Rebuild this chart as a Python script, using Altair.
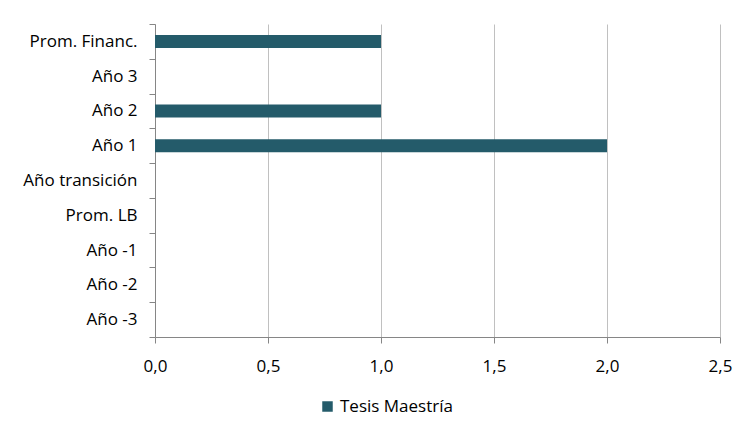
import altair as alt
import pandas as pd

categories = ["Prom. Financ.", "Año 3", "Año 2", "Año 1", "Año transición",
              "Prom. LB", "Año -1", "Año -2", "Año -3"]
values = [1, 0, 1, 2, 0, 0, 0, 0, 0]
series = ["Tesis Maestría"] * len(categories)
x_ticks = [0, 0.5, 1.0, 1.5, 2.0, 2.5]

df = pd.DataFrame({"cat": categories, "val": values, "serie": series})

FONT = "Open Sans"
FS = 17

chart = alt.Chart(df).mark_bar(height=13).encode(
    y=alt.Y("cat:N", sort=categories, title=None,
            scale=alt.Scale(paddingInner=0, paddingOuter=0),
            axis=alt.Axis(tickBand="extent", tickSize=6, tickColor="#868686",
                          domainColor="#868686", labelPadding=12,
                          labelFontSize=FS, labelFont=FONT, labelColor="#000000",
                          grid=False)),
    x=alt.X("val:Q", title=None,
            scale=alt.Scale(domain=[0, 2.5], nice=False),
            axis=alt.Axis(values=x_ticks, tickSize=6, tickColor="#868686",
                          domainColor="#868686", gridColor="#C0C0C0",
                          labelExpr="replace(format(datum.value, '.1f'), '.', ',')",
                          labelPadding=15, labelFontSize=FS, labelFont=FONT,
                          labelColor="#000000", labelFlush=False)),
    color=alt.Color("serie:N", scale=alt.Scale(range=["#245B6A"]),
                    legend=alt.Legend(title=None, orient="none", legendX=164, legendY=374,
                                      symbolType="square", symbolSize=110,
                                      symbolStrokeWidth=0, labelFontSize=FS,
                                      labelFont=FONT, labelColor="#000000",
                                      symbolOpacity=1)),
).properties(
    width=565, height=313,
    autosize=alt.AutoSizeParams(type="none"),
    padding={"left": 147, "top": 16, "right": 20, "bottom": 80},
).configure_view(stroke=None)

chart.save("out.html", embed_options={"renderer": "svg", "actions": False})
